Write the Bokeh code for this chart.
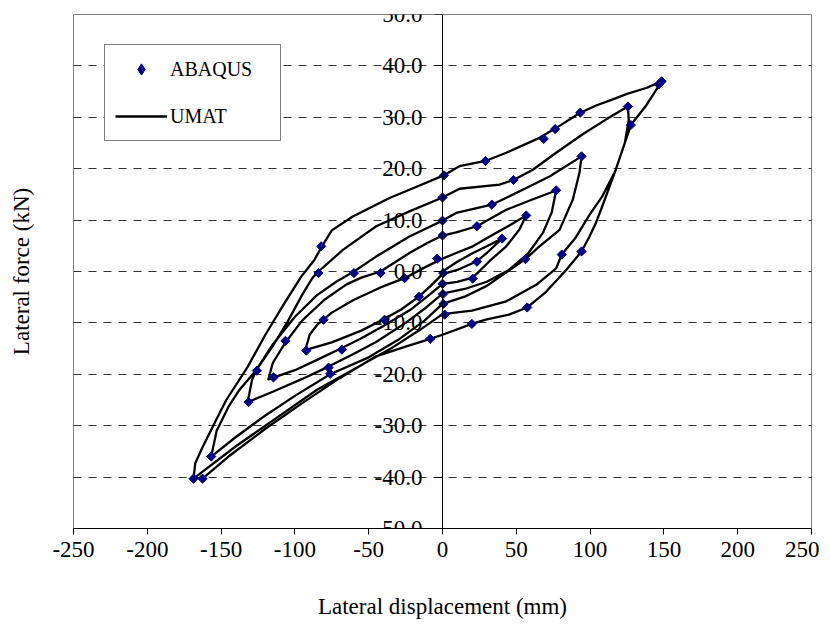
import numpy as np
from bokeh.plotting import figure
from bokeh.models import (LinearAxis, FixedTicker, NumeralTickFormatter, Range1d,
                          Legend, LegendItem)
from bokeh.embed import file_html
from bokeh.resources import INLINE

# ---------------- data ----------------
# UMAT: one continuous hysteresis path (displacement mm, force kN)
umat_x = [0, 10, 20, 30, 40.4,
          30, 23.3, 10, 0, -8, -16, -28, -39.3, -55, -75, -93,
          -90, -85, -75, -60, -42, -25.7, -12, 0, 9.3, 20.5, 35, 45, 56.7,
          52.2, 43.2, 31.8, 20.5, 10, 0, -10, -22, -40, -55, -68.2, -85, -100, -118,
          -115, -106.4, -95, -80, -65, -55, -42, -22.4, -10, 0, 9.3, 23.3, 43.2, 60, 77,
          74, 68, 58, 45, 30, 15, 0, -12, -25, -45, -60, -77.2, -95, -115, -132,
          -129, -125.8, -115, -100, -85, -72, -60, -45, -22.4, -10, 0, 9.3, 33.4, 54.4, 72.5, 94.2,
          92.8, 88.3, 79.3, 65.7, 56.2, 45, 30, 15, 0, -12, -30, -50, -76.1, -100, -120, -140, -156.7,
          -153, -145, -137.5, -126.2, -115, -105, -95, -88, -84, -67.5, -44.9, -22.4, 0, 11.5, 38.6,
          48.1, 61.2, 77, 95, 110.9, 125.6,
          126.2, 123.5, 117, 108, 99.6, 90, 80.8, 77, 63.5, 43.2, 20, 0, -15, -35, -60, -85, -110,
          -140, -168.7,
          -167.5, -163.4, -152.2, -146.5, -131.9, -120, -108, -95.7, -86.7, -81.7, -75, -60.8, -35.9,
          -22.4, 0, 11.5, 29.1, 43.2, 65.7, 76.3, 93.3, 104.1, 115.4, 124.5, 138, 148.5,
          138, 127.6, 117, 108, 104, 99.6, 94.2, 83.8, 70, 57.4, 45, 30, 19.9, 0, -8.3, -25, -45,
          -70, -95, -120, -145, -162.6]
umat_y = [0, 1.9, 3.5, 4.9, 6.4,
          3.6, 2.0, 0.3, -0.5, -2.8, -4.9, -7.4, -9.2, -11.5, -13.8, -15.3,
          -12.3, -10.4, -8.0, -5.5, -3.1, -1.3, 0.8, 2.5, 3.6, 4.9, 7.3, 8.9, 10.9,
          8.2, 4.9, 2.0, -1.2, -2.0, -2.4, -4.8, -7.5, -10.6, -13.0, -14.9, -17.2, -19.2, -21.0,
          -17.8, -13.8, -9.5, -5.5, -2.5, -1.2, 0, 3.6, 5.6, 7.0, 7.6, 8.8, 12.0, 13.9, 15.75,
          11.5, 7.5, 3.5, 0.3, -2.0, -3.4, -4.3, -7.2, -10.0, -13.7, -16.0, -18.5, -20.9, -23.4, -25.4,
          -21.0, -19.0, -14.2, -8.8, -4.6, -2.0, 0, 2.9, 6.8, 8.5, 9.9, 11.4, 13.0, 15.9, 18.5, 22.4,
          19.2, 14.0, 8.1, 4.9, 2.4, 0.2, -2.8, -4.9, -6.3, -9.5, -13.3, -16.7, -20.0, -24.2, -28.0, -32.2, -36.0,
          -31.0, -26.3, -23.0, -19.2, -14.5, -9.8, -4.5, -1.2, 0, 4.2, 8.8, 11.7, 14.4, 16.1, 16.9,
          17.8, 19.8, 23.1, 26.7, 29.6, 32.1,
          29.5, 25.0, 19.5, 14.5, 11.0, 6.5, 3.3, 0.6, -2.6, -5.8, -7.6, -8.3, -11.3, -15.0, -19.0, -23.0, -28.0,
          -34.0, -40.3,
          -37.3, -34.7, -28.2, -25.0, -18.5, -12.3, -6.6, -1.0, 2.3, 4.9, 8.0, 10.7, 14.3,
          15.9, 18.6, 20.5, 21.5, 23.1, 26.0, 27.8, 30.9, 32.3, 33.5, 34.5, 35.7, 37.0,
          32.3, 28.5, 19.5, 12.5, 9.5, 6.8, 3.9, 0.3, -4.0, -7.0, -8.4, -9.3, -10.2, -12.3, -13.1, -14.6, -16.5,
          -20.8, -25.6, -30.6, -36.0, -40.3]

# ABAQUS: discrete points
abaqus_x = [148.5, 146.5, 125.6, 127.6, 93.3, 76.3, 68.6, 29.1, 1.0, 0.0, 48.1, 94.2, 33.4,
            0.0, 77.0, 23.3, 0.0, 56.7, 40.4, -3.6, 23.3, 56.2, 80.8, 94.2, 20.5, 0.5, 0.0,
            0.3, 0.6, 1.5, 57.4, 19.9, -8.3, -82.2, -84.0, -60.0, -42.0, -25.7, -16.0, -80.6,
            -39.3, -68.2, -77.2, -76.1, -106.4, -92.3, -125.8, -114.5, -131.4, -156.7, -168.7,
            -162.6]
abaqus_y = [37.0, 36.4, 32.1, 28.5, 30.9, 27.7, 25.8, 21.5, 18.7, 14.4, 17.8, 22.4, 13.0,
            9.9, 15.8, 8.8, 7.0, 10.9, 6.4, 2.5, 1.9, 2.4, 3.3, 3.9, -1.4, -0.3, -2.4,
            -4.4, -6.3, -8.4, -7.0, -10.2, -13.1, 4.9, -0.3, -0.3, -0.3, -1.3, -4.9, -9.4,
            -9.4, -15.2, -18.7, -19.9, -13.5, -15.4, -19.3, -20.6, -25.4, -36.0, -40.3,
            -40.3]

x_ticks = [-250, -200, -150, -100, -50, 0, 50, 100, 150, 200, 250]
y_ticks = [-50, -40, -30, -20, -10, 0, 10, 20, 30, 40, 50]
grid_ticks = [-40, -30, -20, -10, 0, 10, 20, 30, 40]

FONT = "'Liberation Serif', 'Times New Roman', serif"

p = figure(frame_width=738, frame_height=514,
           x_range=Range1d(-250, 250), y_range=Range1d(-50, 50),
           output_backend="svg", toolbar_location=None,
           min_border_left=73, min_border_top=14, min_border_right=8,
           min_border_bottom=90,
           background_fill_color="white", border_fill_color="white")

p.outline_line_color = "#808080"
p.outline_line_width = 1

# x axis (bottom)
xa = p.xaxis[0]
xa.ticker = FixedTicker(ticks=x_ticks)
xa.formatter = NumeralTickFormatter(format="0")
xa.axis_label = "Lateral displacement (mm)"
xa.axis_label_text_font = FONT
xa.axis_label_text_font_size = "23px"
xa.axis_label_text_font_style = "normal"
xa.axis_label_text_color = "black"
xa.axis_label_standoff = 34
xa.major_label_text_font = FONT
xa.major_label_text_font_size = "23px"
xa.major_label_text_color = "black"
xa.major_label_standoff = 7
xa.major_tick_out = 6
xa.major_tick_in = 0
xa.minor_tick_line_color = None
xa.axis_line_color = "black"
xa.major_tick_line_color = "black"

# y axis drawn through x = 0
ya = p.yaxis[0]
ya.fixed_location = 0
ya.ticker = FixedTicker(ticks=y_ticks)
ya.formatter = NumeralTickFormatter(format="0.0")
ya.major_label_text_font = FONT
ya.major_label_text_font_size = "23px"
ya.major_label_text_color = "black"
ya.major_label_standoff = 12
ya.major_tick_out = 8
ya.major_tick_in = 0
ya.minor_tick_line_color = None
ya.axis_line_color = "black"
ya.major_tick_line_color = "black"

# y axis title at the far left
ylab = LinearAxis(ticker=FixedTicker(ticks=[]), axis_label="Lateral force (kN)",
                  axis_line_color=None, major_tick_line_color=None,
                  minor_tick_line_color=None, major_tick_out=0, major_tick_in=0,
                  axis_label_standoff=40, axis_label_text_font=FONT,
                  axis_label_text_font_size="23px", axis_label_text_font_style="normal",
                  axis_label_text_color="black")
p.add_layout(ylab, "left")

p.xgrid.visible = False
p.ygrid.ticker = FixedTicker(ticks=grid_ticks)
p.ygrid.grid_line_color = "#333333"
p.ygrid.grid_line_dash = "8 7"
p.ygrid.grid_line_width = 1

r_line = p.line(umat_x, umat_y, line_color="black", line_width=2.3, line_join="round")
r_pts = p.scatter(abaqus_x, abaqus_y, marker="square", angle=np.pi / 4, size=6.5,
                  fill_color="#000080", line_color="#000080", line_width=1)
# legend key only (a single NaN point draws nothing on the plot)
r_key = p.scatter(x=[np.nan], y=[np.nan], marker="diamond", fill_color="#000080",
                  line_color="#000080", line_width=1)

legend = Legend(items=[LegendItem(label="ABAQUS", renderers=[r_key]),
                       LegendItem(label="UMAT", renderers=[r_line])],
                location=(31, 387), orientation="vertical",
                padding=10, margin=0, spacing=19,
                glyph_width=52, glyph_height=28, label_height=28, label_width=100,
                label_standoff=3,
                label_text_font=FONT, label_text_font_size="20px",
                label_text_color="black",
                border_line_color="black", border_line_width=1,
                background_fill_color="white", background_fill_alpha=1.0)
p.add_layout(legend, "center")

open("out.html", "w").write(file_html(p, INLINE))
